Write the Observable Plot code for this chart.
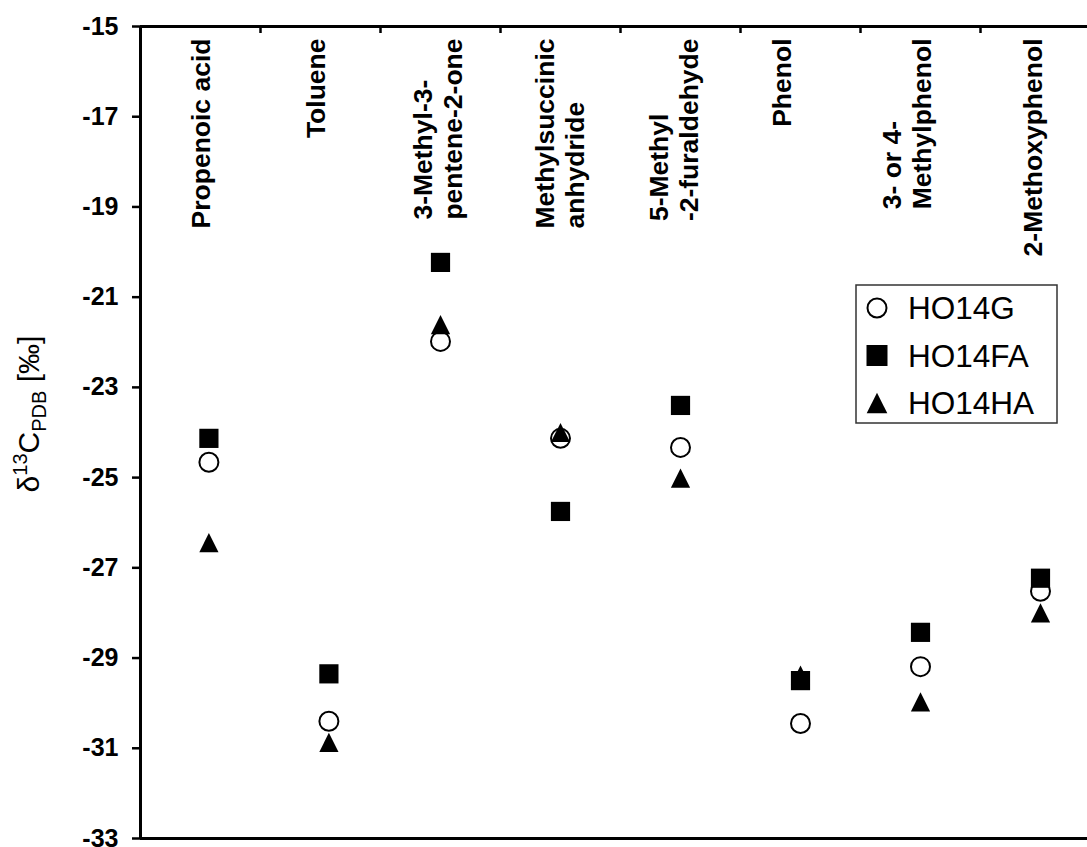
<!DOCTYPE html>
<html>
<head>
<meta charset="utf-8">
<script src="https://cdn.jsdelivr.net/npm/d3@7"></script>
<script src="https://cdn.jsdelivr.net/npm/@observablehq/plot@0.6"></script>
<style>
  html, body { margin: 0; padding: 0; background: #fff; overflow: hidden; }
  #chart { position: relative; width: 1087px; height: 847px; }
  #chart > svg { display: block; }
</style>
</head>
<body>
<div id="chart"></div>
<script>
// Pyrolysis products and their δ13C values (‰ vs PDB) for three fractions
const compounds = [
  "Propenoic acid",
  "Toluene",
  "3-Methyl-3-\npentene-2-one",
  "Methylsuccinic\nanhydride",
  "5-Methyl\n-2-furaldehyde",
  "Phenol",
  "3- or 4-\nMethylphenol",
  "2-Methoxyphenol"
];
const compoundPos = [1.07, 2.07, 3, 4, 5, 6, 7, 8];
const seriesNames = ["HO14G", "HO14FA", "HO14HA"];
const ho14g  = [-24.66, -30.40, -21.98, -24.13, -24.33, -30.45, -29.19, -27.52];
const ho14fa = [-24.13, -29.35, -20.23, -25.75, -23.40, -29.50, -28.43, -27.23];
const ho14ha = [-26.44, -30.87, -21.61, -24.00, -25.01, -29.38, -29.97, -28.00];
const yTicks = [-15, -17, -19, -21, -23, -25, -27, -29, -31, -33];

// Layout
const W = 1087, H = 847;
const frame = {left: 140, right: 1100, top: 26, bottom: 838};
const xDomain = [0.5, compounds.length + 0.5];
const yDomain = [-33, -15];
const pxPerX = (frame.right - frame.left) / (xDomain[1] - xDomain[0]);
const pxPerY = (frame.bottom - frame.top) / (yDomain[1] - yDomain[0]);
const FONT = "'Liberation Sans', Arial, Helvetica, sans-serif";

// Marker shapes centred on their bounding box
const triangle = {draw(ctx, size) { const r = Math.sqrt(size / Math.PI); ctx.moveTo(0, -r); ctx.lineTo(r, r); ctx.lineTo(-r, r); ctx.closePath(); }};
const square = {draw(ctx, size) { const r = Math.sqrt(size / Math.PI); ctx.rect(-r, -r, 2 * r, 2 * r); }};

const rows = compounds.flatMap((c, i) => [
  {series: "HO14G", pos: compoundPos[i], value: ho14g[i]},
  {series: "HO14FA", pos: compoundPos[i], value: ho14fa[i]},
  {series: "HO14HA", pos: compoundPos[i], value: ho14ha[i]}
]);

// Rotated compound names: lines share a common bottom edge, longest line reaches the top
const labelSize = 26.5;
const measure = document.createElement("canvas").getContext("2d");
measure.font = `bold ${labelSize}px 'Liberation Sans'`;
const labelNudge = [1, -4, -2, 0, -5.5, -18, -13, -7];
const lineGap = 30;
const labelTopGap = 12;
const labelRows = compounds.flatMap((c, i) => {
  const lines = c.split("\n");
  const w = Math.max(...lines.map(l => measure.measureText(l).width));
  const yBottom = yDomain[1] - (labelTopGap + w) / pxPerY;
  return lines.map((t, j) => ({
    text: t,
    x: (i + 1) + (labelNudge[i] + (j - (lines.length - 1) / 2) * lineGap) / pxPerX,
    y: yBottom
  }));
});

const tickLen = 8;

const chart = Plot.plot({
  width: W,
  height: H,
  marginLeft: frame.left,
  marginRight: 0,
  marginTop: frame.top,
  marginBottom: H - frame.bottom,
  style: {fontFamily: FONT, background: "white", color: "black", overflow: "visible"},
  x: {domain: xDomain, range: [frame.left, frame.right], axis: null},
  y: {domain: yDomain, axis: null},
  marks: [
    // value axis: outward ticks and bold labels
    Plot.ruleY(yTicks, {
      y: d => d, x1: xDomain[0] - tickLen / pxPerX, x2: xDomain[0], stroke: "black", strokeWidth: 2.5
    }),
    Plot.text(yTicks, {
      y: d => d, text: d => String(d), frameAnchor: "left", textAnchor: "end", dx: -22,
      fontSize: 25, fontWeight: "bold", fill: "black"
    }),
    // frame lines
    Plot.ruleY([yDomain[1], yDomain[0]], {stroke: "black", strokeWidth: 3}),
    Plot.ruleX([xDomain[0]], {y1: yDomain[0], y2: yDomain[1], stroke: "black", strokeWidth: 3}),
    // category separators on the top edge
    Plot.ruleX(d3.range(1.5, compounds.length, 1), {
      x: d => d, y1: yDomain[1], y2: yDomain[1] - 7 / pxPerY, stroke: "black", strokeWidth: 2.5
    }),
    Plot.text(labelRows, {
      x: "x", y: "y", text: "text", rotate: -90, textAnchor: "start",
      fontSize: labelSize, fontWeight: "bold", fill: "black"
    }),
    Plot.dot(rows.filter(d => d.series === "HO14G"), {
      x: "pos", y: "value", symbol: "circle", r: 9.5, fill: "white", stroke: "black", strokeWidth: 2
    }),
    Plot.dot(rows.filter(d => d.series === "HO14HA"), {
      x: "pos", y: "value", symbol: triangle, r: 9.6, fill: "black", stroke: "none"
    }),
    Plot.dot(rows.filter(d => d.series === "HO14FA"), {
      x: "pos", y: "value", symbol: square, r: 9.6, fill: "black", stroke: "none"
    })
  ]
});

// Y axis title with superscript mass number and subscript reference standard
const yTitle = d3.select(chart).append("text")
  .attr("transform", "translate(39,414) rotate(-90)")
  .attr("text-anchor", "middle")
  .attr("font-family", FONT)
  .attr("font-size", 30)
  .attr("fill", "black");
yTitle.append("tspan").text("δ");
yTitle.append("tspan").attr("font-size", 20).attr("dy", -12).text("13");
yTitle.append("tspan").attr("dy", 12).text("C");
yTitle.append("tspan").attr("font-size", 20).attr("dy", 7).text("PDB");
yTitle.append("tspan").attr("dy", -7).text(" [‰]");

const container = document.getElementById("chart");
container.append(chart);

// Legend box inside the plot area
const legend = d3.create("svg")
  .attr("width", 204).attr("height", 141)
  .style("position", "absolute").style("left", "855px").style("top", "284px");
legend.append("rect")
  .attr("x", 1).attr("y", 1).attr("width", 201).attr("height", 138)
  .attr("fill", "white").attr("stroke", "#333").attr("stroke-width", 1.5);
const legendShapes = [
  {sym: d3.symbolCircle, r: 9.5, fill: "white", stroke: "black"},
  {sym: square, r: 10.5, fill: "black", stroke: "none"},
  {sym: triangle, r: 10.3, fill: "black", stroke: "none"}
];
seriesNames.forEach((name, k) => {
  const cy = 24 + 47.5 * k;
  const s = legendShapes[k];
  legend.append("path")
    .attr("transform", `translate(22,${cy})`)
    .attr("d", d3.symbol(s.sym, Math.PI * s.r * s.r)())
    .attr("fill", s.fill).attr("stroke", s.stroke).attr("stroke-width", 2);
  legend.append("text")
    .attr("x", 53).attr("y", cy + 11)
    .attr("font-family", FONT).attr("font-size", 31.5).attr("fill", "black")
    .text(name);
});
container.append(legend.node());
</script>
</body>
</html>
